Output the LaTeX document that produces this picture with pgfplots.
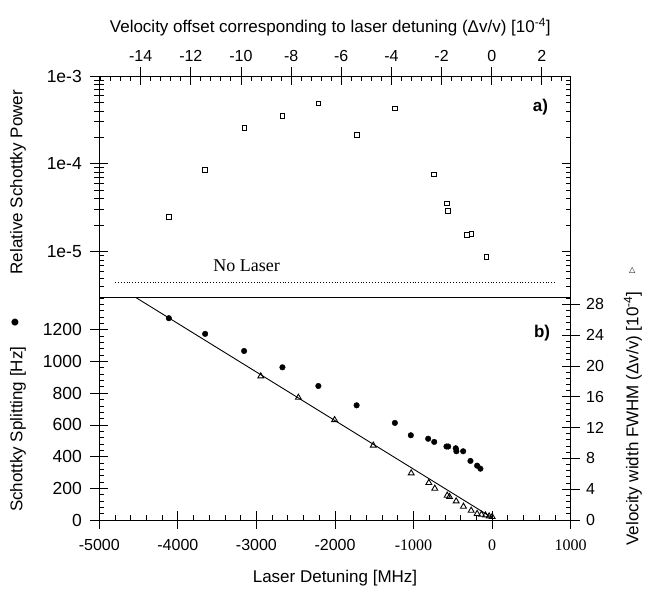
\documentclass[border=0pt]{standalone}
\usepackage{pgfplots}
\usepackage{pgfplotstable}
\pgfplotsset{compat=1.18}
\usepackage{fontspec}
\setmainfont{Liberation Sans}
\newfontfamily\timesfont{Liberation Serif}
\newfontfamily\dejavu{DejaVu Sans}

\pgfplotstableread{
x y
-4111 2.50e-5
-3653 8.50e-5
-3152 2.58e-4
-2669 3.50e-4
-2212 4.89e-4
-1725 2.13e-4
-1238 4.28e-4
-746 7.59e-5
-577 3.55e-5
-559 2.92e-5
-318 1.57e-5
-263 1.60e-5
-72 8.68e-6
}\powerdata

\pgfplotstableread{
x y
-4115 1274
-3653 1175
-3157 1067
-2669 964
-2212 846
-1725 724
-1238 613
-1035 535
-814 513
-737 493
-581 464
-559 464
-463 453
-455 434
-369 434
-276 373
-191 343
-149 324
}\splitdata

\pgfplotstableread{
x y
-2945 18.67
-2466 15.90
-2005 13.00
-1513 9.68
-1030 6.08
-806 4.83
-730 4.09
-572 3.18
-543 3.01
-458 2.44
-365 1.75
-267 1.23
-191 0.81
-136 0.71
-85 0.62
-38 0.49
0 0.42
}\widthdata

\pgfplotsset{
  base/.style={
    scale only axis, width=471.4bp, anchor=south west,
    xmin=-5000, xmax=1000,
    /pgf/number format/assume math mode=true,
    /pgf/number format/1000 sep={},
    tick label style={font=\fontsize{16bp}{19bp}\selectfont},
    label style={font=\fontsize{17bp}{20bp}\selectfont},
    major tick length=9bp, minor tick length=5bp,
    tick style={black, line width=0.9pt},
    axis line style={line width=0.9pt},
  },
}

\begin{document}
\begin{tikzpicture}
\useasboundingbox (0,0) rectangle (647bp,590bp);

% ---------- top panel ----------
\begin{axis}[base, at={(99.3bp,292.7bp)}, height=221.3bp,
  ymode=log, ymin=3.03e-6, ymax=1e-3,
  xtick=\empty,
  ytick={1e-5,1e-4,1e-3}, yticklabels={1e-5,1e-4,1e-3},
  minor ytick={4e-6,5e-6,6e-6,7e-6,8e-6,9e-6,2e-5,3e-5,4e-5,5e-5,6e-5,7e-5,8e-5,9e-5,2e-4,3e-4,4e-4,5e-4,6e-4,7e-4,8e-4,9e-4},
  tick align=inside,
  yticklabel style={xshift=-14bp, font=\fontsize{17.5bp}{20bp}\selectfont},
  ylabel={Relative Schottky Power},
  ylabel style={at={(axis description cs:-0.1725,0.52)}, anchor=center},
]
\addplot[only marks, mark=square, mark size=2.4bp, mark options={line width=0.8pt, black}] table {\powerdata};
\addplot[black, dotted, line width=0.9pt] coordinates {(-4800,4.48e-6) (805,4.48e-6)};
\node[font=\timesfont\fontsize{18bp}{20bp}\selectfont] at (axis cs:-3126,6.9e-6) {No Laser};
\node[font=\bfseries\fontsize{17bp}{20bp}\selectfont] at (axis cs:614,4.47e-4) {a)};
\end{axis}

% left outside ticks of top panel
\begin{axis}[base, at={(99.3bp,292.7bp)}, height=221.3bp,
  ymode=log, ymin=3.03e-6, ymax=1e-3,
  hide x axis, axis y line*=left,
  ytick={1e-5,1e-4,1e-3}, yticklabels={}, minor ytick={},
  tick align=outside,
]
\end{axis}

% top velocity axis (inside ticks + labels)
\begin{axis}[base, at={(99.3bp,292.7bp)}, height=221.3bp,
  xmin=-15.65, xmax=3.15, ymin=0, ymax=1,
  hide y axis, axis x line*=top,
  xtick={-14,-12,...,2},
  minor xtick={-15.6,-15.2,...,2.9},
  tick align=inside,
  xticklabel style={yshift=11bp},
  xlabel={Velocity offset corresponding to laser detuning (Δv/v) [10\textsuperscript{-4}]},
  xlabel style={at={(axis description cs:0.49,1.221)}, anchor=center},
]
\end{axis}

% top velocity axis outside ticks
\begin{axis}[base, at={(99.3bp,292.7bp)}, height=221.3bp,
  xmin=-15.65, xmax=3.15, ymin=0, ymax=1,
  hide y axis, axis x line*=top,
  xtick={-14,-12,...,2}, xticklabels={}, minor xtick={},
  tick align=outside,
]
\end{axis}

% ---------- bottom panel ----------
\begin{axis}[base, at={(99.3bp,70bp)}, height=222.7bp,
  ymin=0, ymax=1406,
  xtick={-5000,-4000,...,1000},
  xticklabels={-5000,-4000,-3000,-2000,{\timesfont -1000},{\timesfont 0},{\timesfont 1000}},
  minor xtick={-4800,-4600,...,900},
  ytick={0,200,...,1200},
  yticklabels={0,200,400,600,800,1000,1200},
  minor ytick={40,80,...,1400},
  xtick pos=bottom, ytick pos=left,
  tick align=inside,
  xticklabel style={yshift=-16bp},
  yticklabel style={xshift=-14bp, font=\fontsize{17.5bp}{20bp}\selectfont},
  xlabel={Laser Detuning [MHz]},
  xlabel style={at={(axis description cs:0.5,-0.26)}, anchor=center},
  ylabel={Schottky Splitting [Hz]\hspace{20bp}\raisebox{5bp}{\dejavu\fontsize{9bp}{9bp}\selectfont ●}},
  ylabel style={at={(axis description cs:-0.1725,0.47)}, anchor=center},
]
\addplot[only marks, mark=*, mark size=2.8bp, mark options={black, fill=black}] table {\splitdata};
\node[font=\bfseries\fontsize{17bp}{20bp}\selectfont] at (axis cs:636,1183) {b)};
\end{axis}

% bottom/left outside ticks of bottom panel
\begin{axis}[base, at={(99.3bp,70bp)}, height=222.7bp,
  ymin=0, ymax=1406,
  axis x line*=bottom, axis y line*=left,
  xtick={-5000,-4000,...,1000}, ytick={0,200,...,1200},
  xticklabels={}, yticklabels={}, minor xtick={}, minor ytick={},
  tick align=outside,
]
\end{axis}

% right axis of bottom panel
\begin{axis}[base, at={(99.3bp,70bp)}, height=222.7bp,
  ymin=0, ymax=28.92,
  hide x axis, axis y line*=right,
  ytick={0,4,...,28},
  minor ytick={0.8,1.6,...,28.85},
  tick align=inside,
  yticklabel style={xshift=12bp},
  ylabel={Velocity width FWHM (Δv/v) [10\textsuperscript{-4}]\hspace{18bp}\raisebox{4bp}{\dejavu\fontsize{8bp}{8bp}\selectfont ▷}},
  ylabel style={at={(axis description cs:1.132,0.51)}, anchor=center},
]
\addplot[black, line width=0.9pt] coordinates {(-4600,29.30) (0,0.3)};
\addplot[only marks, mark=triangle, mark size=3.4bp, mark options={black, line width=0.9pt, fill=white}] table {\widthdata};
\end{axis}

% right outside ticks
\begin{axis}[base, at={(99.3bp,70bp)}, height=222.7bp,
  ymin=0, ymax=28.92,
  hide x axis, axis y line*=right,
  ytick={0,4,...,28}, yticklabels={}, minor ytick={},
  tick align=outside,
]
\end{axis}
\end{tikzpicture}
\end{document}
